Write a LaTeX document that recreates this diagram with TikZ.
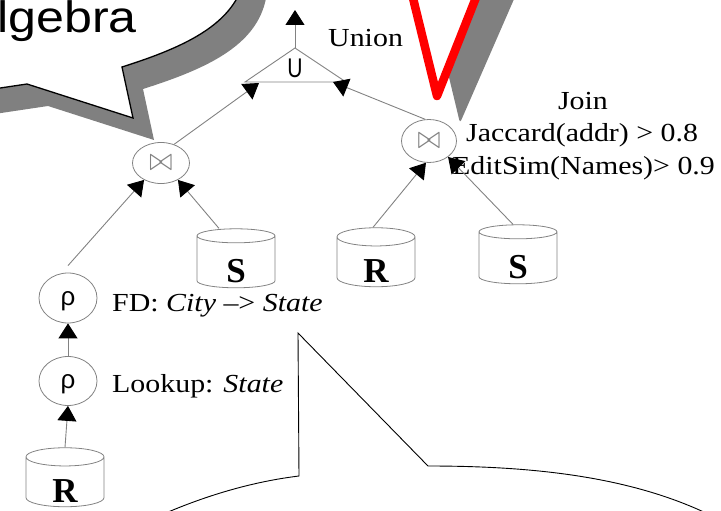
\documentclass[tikz,border=0pt]{standalone}
\usepackage{fontspec}
\setmainfont{Liberation Serif}
\newfontfamily\arialf{Liberation Sans}
\usepackage{graphicx}
\usetikzlibrary{shapes.geometric,arrows.meta}
\definecolor{shadowgray}{RGB}{128,128,128}
\definecolor{linegray}{RGB}{130,130,130}
\tikzset{
  conn/.style={draw=linegray, line width=0.9pt, -{Triangle[length=15pt,width=19pt,color=black]}},
  opnode/.style={ellipse, draw=linegray, line width=0.8pt, inner sep=0pt},
  dbnode/.style={cylinder, shape border rotate=90, draw=linegray, line width=0.8pt,
    aspect=0.72, minimum width=78pt, minimum height=59pt, inner sep=0pt,
    font=\fontsize{35}{40}\selectfont\bfseries},
  lbl/.style={font=\fontsize{26}{30}\selectfont, inner sep=0pt},
  rholbl/.style={font=\arialf\fontsize{26}{30}\selectfont},
}
\newcommand{\wide}[1]{\scalebox{1.15}[1]{#1}}
\newcommand{\joinsym}{\textcolor{linegray}{\resizebox{23pt}{15pt}{$\bowtie$}}}
\begin{document}
\begin{tikzpicture}[x=1pt,y=-1pt]
\useasboundingbox (0,0) rectangle (721,511);
\clip (0,0) rectangle (721,511);

% top-left callout (shadow, then bubble)
\fill[shadowgray, shift={(21,22)}] (-40,94) -- (27,84) -- (133,118) -- (122,67)
  .. controls (188,46) and (240,22) .. (246,-30) -- (-40,-30) -- cycle;
\filldraw[fill=white, draw=black, line width=1.3pt] (-40,94) -- (27,84) -- (133,118) -- (122,67)
  .. controls (188,46) and (240,22) .. (246,-30) -- (-40,-30) -- cycle;
\node[font=\arialf\fontsize{44}{50}\selectfont, inner sep=0pt, anchor=base east] (alg) at (137,33) {\scalebox{1.14}[1]{algebra}};

% top-right callout tail (shadow, then red outline)
\fill[shadowgray, rounded corners=3pt] (428,-10) -- (460,123) -- (518,-10) -- cycle;
\filldraw[fill=white, draw=red, line width=8.5pt, line join=round] (411,-10) -- (437,96) -- (479,-10);

% bottom callout
\filldraw[fill=white, draw=black, line width=0.9pt] (150,520) .. controls (200,497) and (250,482) .. (299,476)
  -- (298,333) -- (428,466) .. controls (540,466) and (640,478) .. (720,520);

% union operator
\coordinate (uapex) at (295,48);
\coordinate (ul) at (245,82);
\coordinate (ur) at (346,82);
\coordinate (uout) at (295,10);
\coordinate (ulin) at (259,83);
\coordinate (urin) at (333,82);
\draw[linegray, line width=0.9pt] (uapex) -- (ul) -- (ur) -- cycle;
\node[font=\arialf\fontsize{27}{30}\selectfont, inner sep=0pt] (U) at (295,68) {\scalebox{0.78}[1]{U}};
\draw[conn] (uapex) -- (uout);
\node[lbl, anchor=base west] (unionlbl) at (328,47) {\wide{Union}};

% join operators
\node[opnode, minimum width=57pt, minimum height=41pt] (J1) at (161,163) {\joinsym};
\node[opnode, minimum width=55pt, minimum height=43pt] (J2) at (429,141) {\joinsym};

\node[lbl, anchor=base] (joinlbl) at (583,110) {\wide{Join}};
\node[lbl, anchor=base west] (jac) at (466,142) {\wide{Jaccard(addr) > 0.8}};
\node[lbl, anchor=base west] (edit) at (452,174) {\wide{EditSim(Names)> 0.9}};

% selection / rho operators
\node[opnode, minimum width=58pt, minimum height=50pt, rholbl] (P1) at (68,298) {\smash{\raisebox{-7pt}{ρ}}};
\node[opnode, minimum width=58pt, minimum height=49pt, rholbl] (P2) at (68,381) {\smash{\raisebox{-7pt}{ρ}}};
\node[lbl, anchor=base west] (fd) at (112,311) {\wide{FD: \textit{City} –> \textit{State}}};
\node[lbl, anchor=base west] (look) at (112,392) {\wide{Lookup: \textit{State}}};

% relations
\node[dbnode] (Sl) at (236,262) {\smash{\raisebox{-20pt}{S}}};
\node[dbnode] (Rm) at (376,262) {\smash{\raisebox{-20pt}{R}}};
\node[dbnode] (Sr) at (518,258) {\smash{\raisebox{-20pt}{S}}};
\node[dbnode] (Rb) at (65,482) {\smash{\raisebox{-20pt}{R}}};

% connectors
\draw[conn] (J1.55) -- (ulin);
\draw[conn] (J2.100) -- (urin);
\draw[conn] ([yshift=7pt]P1.north) -- (J1.225);
\draw[conn] ([xshift=-17pt]Sl.north) -- (J1.315);
\draw[conn] ([xshift=-3pt]Rm.north) -- (J2.262);
\draw[conn] ([xshift=-5pt]Sr.north) -- (J2.320);
\draw[conn] (Rb.north) -- (P2.south);
\draw[conn] (P2.north) -- (P1.south);
\end{tikzpicture}
\end{document}
